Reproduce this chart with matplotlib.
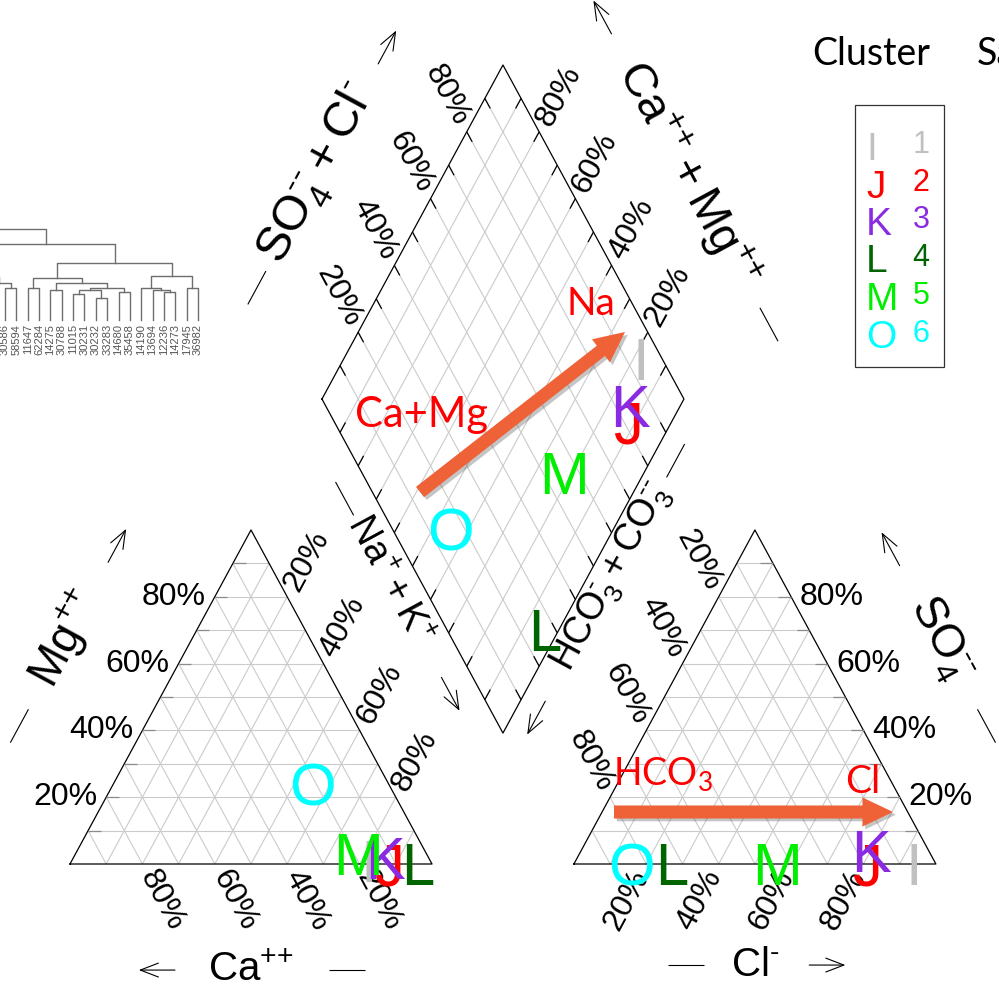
import numpy as np
import matplotlib.pyplot as plt
import matplotlib.patheffects as pe
from matplotlib import transforms
from matplotlib.patches import FancyArrowPatch, Rectangle

plt.rcParams['font.family'] = ['Liberation Sans', 'DejaVu Sans']
plt.rcParams['mathtext.fontset'] = 'custom'
plt.rcParams['mathtext.rm'] = 'Liberation Sans'
plt.rcParams['mathtext.it'] = 'Liberation Sans:italic'
plt.rcParams['mathtext.bf'] = 'Liberation Sans:bold'

# cluster mean compositions (% meq)
clusters = ['I', 'J', 'K', 'L', 'M', 'O']
cluster_no = ['1', '2', '3', '4', '5', '6']
cluster_colors = ['#c0c0c0', '#ff0000', '#8a2be2', '#006400', '#00ee00', '#00ffff']
ca = [17, 12, 12, 4, 19, 21]
mg = [1, 0, 2, 0, 3, 24]
na_k = [82, 88, 86, 96, 78, 55]
hco3 = [6, 19, 16, 73, 44, 84]
so4 = [0, 0, 4, 0, 0, 0]
cl = [94, 81, 80, 27, 56, 16]

pct_ticks = [20, 40, 60, 80]

# sample dendrogram (leaf ids and merge heights)
leaf_labels = ['30586', '58594', '11647', '62284', '14275', '30788', '11015', '30231',
               '30232', '33283', '14680', '35458', '14190', '13694', '12236', '14273',
               '17945', '36982']
tree = (-8, (((-5, -4, 35), ((-2, -1, 30), (0, 1, 32), 37), 43),
             (((2, 3, 32), ((4, 5, 30), (((6, 7, 26), (8, 9, 22), 30), (10, 11, 28), 32), 37), 42),
              ((12, (13, (14, 15, 28), 30), 32), (16, 17, 32), 44), 57), 76), 91)

W, H = 999, 1002
fig = plt.figure(figsize=(W / 100, H / 100), dpi=100)
ax = fig.add_axes([0, 0, 1, 1])
ax.set_xlim(-70 / 362, (W - 70) / 362)
ax.set_ylim(-(H - 864) / 385.7, 864 / 385.7)
ax.axis('off')

s3 = np.sqrt(3) / 2
gap = 0.392
x_r = 1 + gap                      # left corner of the anion triangle
ROT = np.degrees(np.arctan2(s3 * 385.7, 0.5 * 362))   # on-screen angle of 60 deg sides

GRID = '#cbcbcb'
HY = '\u2010'   # plain hyphen, mathtext turns '-' into a minus sign


def cation_xy(c, m, n):
    return n + m / 2, m * s3


def anion_xy(h, s, c):
    return x_r + c + s / 2, s * s3


def diamond_xy(n, a):
    lx, ly = 0.5 + gap / 2, (1 + gap) * s3
    return lx + 0.5 * (n + a), ly + s3 * (a - n)


def seg(p, q, **kw):
    ax.plot([p[0], q[0]], [p[1], q[1]], solid_capstyle='butt', **kw)


# triangles
for x0 in (0, x_r):
    for f in np.arange(1, 10) / 10:
        seg((x0 + f / 2, f * s3), (x0 + 1 - f / 2, f * s3), color=GRID, lw=0.8)
        seg((x0 + f, 0), (x0 + f + (1 - f) / 2, (1 - f) * s3), color=GRID, lw=0.8)
        seg((x0 + f, 0), (x0 + f / 2, f * s3), color=GRID, lw=0.8)
    ax.plot([x0, x0 + 1, x0 + 0.5, x0], [0, 0, s3, 0], color='k', lw=0.9)

# short ticks on the Mg and SO4 sides
for f in np.arange(1, 10) / 10:
    seg((f / 2, f * s3), (f / 2 + 0.035, f * s3), color='#8c8c8c', lw=0.9)
    seg((x_r + 1 - f / 2, f * s3), (x_r + 1 - f / 2 - 0.035, f * s3), color='#8c8c8c', lw=0.9)

# diamond
for f in np.arange(1, 10) / 10:
    seg(diamond_xy(f, 0), diamond_xy(f, 1), color=GRID, lw=0.8)
    seg(diamond_xy(0, f), diamond_xy(1, f), color=GRID, lw=0.8)
corners = [diamond_xy(0, 0), diamond_xy(1, 0), diamond_xy(1, 1), diamond_xy(0, 1), diamond_xy(0, 0)]
ax.plot([p[0] for p in corners], [p[1] for p in corners], color='k', lw=0.9)
tk = 0.03
for f in np.arange(1, 10) / 10:
    seg(diamond_xy(0, f), diamond_xy(tk, f), color='k', lw=0.9)
    seg(diamond_xy(1, f), diamond_xy(1 - tk, f), color='k', lw=0.9)
    seg(diamond_xy(f, 0), diamond_xy(f, tk), color='k', lw=0.9)
    seg(diamond_xy(f, 1), diamond_xy(f, 1 - tk), color='k', lw=0.9)


def pct(x, y, txt, rot, ha, shift=9):
    r = np.radians(rot)
    sgn = 1 if ha == 'left' else -1
    tr = transforms.offset_copy(ax.transData, fig=fig, x=sgn * shift * np.cos(r) * 0.72,
                                y=sgn * shift * np.sin(r) * 0.72, units='points')
    ax.text(x, y, txt, transform=tr, rotation=rot, rotation_mode='anchor',
            ha=ha, va='center', fontsize=23)


for p in pct_ticks:
    f = p / 100
    lab = f'{p}%'
    # cation triangle
    pct(f / 2, f * s3, lab, 0, 'right')
    pct(f + (1 - f) / 2, (1 - f) * s3, lab, ROT, 'left')
    pct(1 - f, 0, lab, -ROT, 'left')
    # anion triangle
    pct(x_r + (1 - f) / 2, (1 - f) * s3, lab, -ROT, 'right')
    pct(x_r + f, 0, lab, ROT, 'right')
    pct(x_r + 1 - f / 2, f * s3, lab, 0, 'left')
    # diamond
    pct(*diamond_xy(0, f), lab, -ROT, 'right')
    pct(*diamond_xy(1 - f, 1), lab, ROT, 'left')


def axis_title(p0, p1, normal, d, txt, rot, size, t_line, t_arrow, half=0.05):
    p0, p1 = np.array(p0, float), np.array(p1, float)
    off = np.array(normal) * d

    def P(t):
        return p0 + t * (p1 - p0) + off
    c = P(0.5)
    ax.text(c[0], c[1], txt, rotation=rot, rotation_mode='anchor', ha='center',
            va='center', fontsize=size)
    seg(P(t_line - half), P(t_line + half), color='k', lw=0.8)
    ax.add_patch(FancyArrowPatch(tuple(P(t_arrow - half)), tuple(P(t_arrow + half)),
                                 arrowstyle='->,head_length=1.3,head_width=0.5',
                                 mutation_scale=10, lw=0.8, color='k', shrinkA=0, shrinkB=0))


PP = '{+}{+}'
MM = HY + HY
axis_title((1, 0), (0, 0), (0, -1), 0.275, rf'$\mathregular{{Ca^{{{PP}}}}}$', 0, 29, 0.235, 0.76)
axis_title((0, 0), (0.5, s3), (-s3, 0.5), 0.3, rf'$\mathregular{{Mg^{{{PP}}}}}$', ROT, 33, 0.24, 0.78)
axis_title((x_r, 0), (x_r + 1, 0), (0, -1), 0.262, rf'$\mathregular{{Cl^{{{HY}}}}}$', 0, 29, 0.31, 0.70)
axis_title((x_r + 1, 0), (x_r + 0.5, s3), (s3, 0.5), 0.3,
           rf'$\mathregular{{SO_4^{{{MM}}}}}$', -ROT, 33, 0.24, 0.77)
axis_title(diamond_xy(0, 0), diamond_xy(0, 1), (-s3, 0.5), 0.3,
           rf'$\mathregular{{SO_4^{{{MM}}} + Cl^{{{HY}}}}}$', ROT, 35, 0.16, 0.88)
axis_title(diamond_xy(1, 1), diamond_xy(0, 1), (s3, 0.5), 0.3,
           rf'$\mathregular{{Ca^{{{PP}}} + Mg^{{{PP}}}}}$', -ROT, 34, 0.05, 0.97)
axis_title(diamond_xy(0, 0), diamond_xy(1, 0), (-s3, -0.5), 0.075,
           r'$\mathregular{Na^{+} + K^{+}}$', -ROT, 27, 0.255, 0.84)
axis_title(diamond_xy(1, 1), diamond_xy(1, 0), (s3, -0.5), 0.06,
           rf'$\mathregular{{HCO_3^{{{HY}}} + CO_3^{{{MM}}}}}$', ROT, 27, 0.15, 0.92)

# cluster letters, glyph centred on the point
FS = 43
tr_mark = transforms.offset_copy(ax.transData, fig=fig, y=-0.716 * FS / 2, units='points')
for i, lab in enumerate(clusters):
    pts = [cation_xy(ca[i] / 100, mg[i] / 100, na_k[i] / 100),
           anion_xy(hco3[i] / 100, so4[i] / 100, cl[i] / 100),
           diamond_xy(na_k[i] / 100, (so4[i] + cl[i]) / 100)]
    for x, y in pts:
        ax.text(x, y, lab, color=cluster_colors[i], fontsize=FS, ha='center',
                va='baseline', transform=tr_mark, zorder=5)


# annotations in figure pixels
def fxy(x, y):
    return x / W, 1 - y / H


shadow = [pe.withSimplePatchShadow(offset=(2, -2), shadow_rgbFace='0.35', alpha=0.35)]
for a, b in [((420, 492), (625, 332)), ((614, 812), (893, 812))]:
    arr = FancyArrowPatch(fxy(*a), fxy(*b), transform=fig.transFigure,
                          arrowstyle='simple,tail_width=9.4,head_width=21,head_length=22',
                          mutation_scale=1, color='#ef6136', lw=0, zorder=8,
                          shrinkA=0, shrinkB=0, path_effects=shadow)
    fig.add_artist(arr)

red = dict(color='#ff0000', fontfamily='Lato', va='baseline', ha='left', zorder=9)
fig.text(*fxy(567, 315), 'Na', fontsize=28, **red)
fig.text(*fxy(355, 427), 'Ca+Mg', fontsize=30, **red)
fig.text(*fxy(613, 786), r'HCO$_\mathregular{3}$', fontsize=27, **red)
fig.text(*fxy(845, 793), 'Cl', fontsize=28, **red)

# legend
fig.text(*fxy(812, 65), 'Cluster', fontsize=27, fontfamily='Lato', va='baseline')
fig.text(*fxy(977, 65), 'Sample', fontsize=27, fontfamily='Lato', va='baseline')
fig.add_artist(Rectangle(fxy(855, 367), 89 / W, 262 / H, transform=fig.transFigure,
                         fill=False, ec='#333333', lw=0.9))
for i, lab in enumerate(clusters):
    fig.text(*fxy(866, 160 + 37.5 * i), lab, color=cluster_colors[i], fontsize=28,
             ha='left', va='baseline')
    fig.text(*fxy(921, 153 + 37.7 * i), cluster_no[i], color=cluster_colors[i],
             fontsize=22, ha='center', va='baseline')

# dendrogram of samples
dax = fig.add_axes([0, 1 - 360 / H, 210 / W, 140 / H])
dax.set_xlim(0, 210)
dax.set_ylim(-40, 100)
dax.axis('off')


def leaf_x(i):
    return 5 + 11.35 * i


def draw_node(node):
    if isinstance(node, int):
        return leaf_x(node), 0
    left, right, h = node
    xl, hl = draw_node(left)
    xr, hr = draw_node(right)
    dax.plot([xl, xl, xr, xr], [hl, h, h, hr], color='#6e6e6e', lw=1.0)
    return (xl + xr) / 2, h


draw_node(tree)
for i, lab in enumerate(leaf_labels):
    dax.text(leaf_x(i), -4, lab, rotation=90, ha='center', va='top', fontsize=8,
             color='#555555')

fig.savefig('out.png', dpi=100)
